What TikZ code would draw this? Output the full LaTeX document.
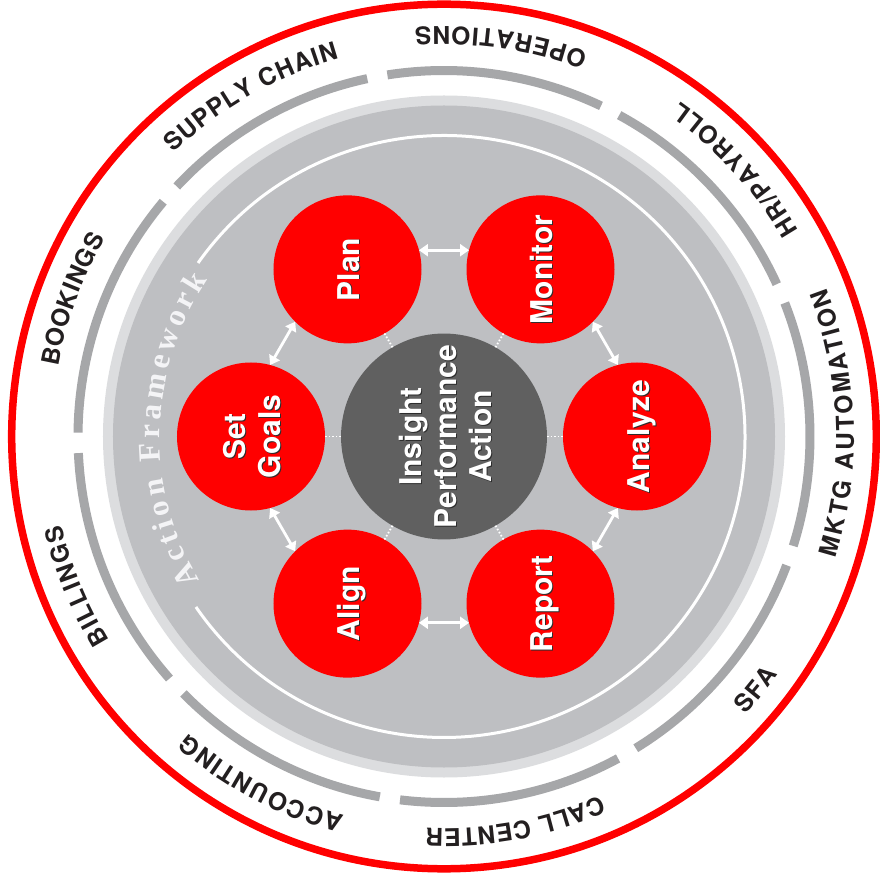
\documentclass[tikz,border=0pt]{standalone}
\usepackage{fontspec}
\usepackage{graphicx}
\usetikzlibrary{decorations.text,arrows.meta}
\newfontfamily\hv{TeX Gyre Heros}
\newfontfamily\tms{Liberation Serif}
\definecolor{myred}{RGB}{255,0,0}
\definecolor{diskgray}{RGB}{190,191,194}
\definecolor{ringgray}{RGB}{220,221,223}
\definecolor{bargray}{RGB}{166,167,169}
\definecolor{coregray}{RGB}{96,96,96}
\definecolor{lblcol}{RGB}{35,31,32}
\definecolor{afcol}{RGB}{244,244,246}
\definecolor{shcol}{RGB}{45,45,45}
\newcommand\circfont{\hv\bfseries\fontsize{30}{35}\selectfont}
\newcommand\lblfont{\hv\bfseries\fontsize{24.5}{24.5}\selectfont\color{lblcol}}
\newcommand\affont{\tms\bfseries\fontsize{31}{31}\selectfont\color{afcol}}
\newcommand\shd[1]{\leavevmode\rlap{\kern-0.9pt\raisebox{-1.1pt}{\textcolor{shcol}{#1}}}#1}
\newcommand\rtext[1]{\rotatebox{90}{\raisebox{0pt}[\height][0pt]{\begin{tabular}[b]{@{}c@{}}#1\end{tabular}}}}
\tikzset{
  redc/.style={circle, fill=myred, minimum size=148pt, inner sep=0pt, outer sep=0pt, text=white, font=\circfont},
  corec/.style={circle, fill=coregray, minimum size=194pt, inner sep=0pt, outer sep=0pt, text=white, font=\circfont},
  dots/.style={white, line width=1.8pt, dash pattern=on 1.6pt off 2pt},
  dbl/.style={white, line width=2.8pt, {Triangle[width=12pt,length=9pt]}-{Triangle[width=12pt,length=9pt]}},
  bar/.style={draw=bargray, line width=9pt},
}
\begin{document}
\begin{tikzpicture}[x=1pt,y=1pt]
\useasboundingbox (-444,-454.5) rectangle (435,436.5);
\fill[white] (-444,-454.5) rectangle (435,436.5);
% outer red ring
\draw[myred, line width=7.5pt] (0,0) circle[radius=432.3];
% gray bar segments
\foreach \a/\b in {98.9/64.6, 61.4/24.6, 21.4/-17.4, -20.6/-58.4, -61.6/-96.9, -100.1/-135.4, -138.6/-177.4, -180.6/-219.9, -223.1/-257.9}
  \draw[bar] (\a:366) arc[start angle=\a, end angle=\b, radius=366];
% disks
\fill[ringgray] (0,0) circle[radius=341];
\fill[diskgray] (0,0) circle[radius=331];
% white circle with gap
\draw[white, line width=3pt] (144.8:301) arc[start angle=144.8, end angle=-145.5, radius=301];
% Action Framework text
\path[decorate, decoration={text along path, text={|\affont|Action Framework}, text align={fit to path}}]
  (210.5:284) arc[start angle=210.5, end angle=146.5, radius=284];
% nodes
\node[corec] (core) at (0,0) {\rtext{\shd{Insight}\\\shd{Performance}\\\shd{Action}}};
\node[redc] (analyze) at (0:193) {\rtext{\shd{Analyze}}};
\node[redc] (monitor) at (60:193) {\rtext{\shd{Monitor}}};
\node[redc] (plan) at (120:193) {\rtext{\shd{Plan}}};
\node[redc] (setgoals) at (180:193) {\rtext{\shd{Set}\\\shd{Goals}}};
\node[redc] (align) at (240:193) {\rtext{\shd{Align}}};
\node[redc] (report) at (300:193) {\rtext{\shd{Report}}};
% dotted spokes
\foreach \n in {analyze,monitor,plan,setgoals,align,report}
  \draw[dots] (core) -- (\n);
% double arrows
\draw[dbl] (analyze.105) -- (monitor.315);
\draw[dbl] (monitor.165) -- (plan.15);
\draw[dbl] (plan.225) -- (setgoals.75);
\draw[dbl] (setgoals.285) -- (align.135);
\draw[dbl] (align.345) -- (report.195);
\draw[dbl] (report.45) -- (analyze.255);
% ring labels, counter-clockwise (tops inward)
\path[decorate, decoration={text along path, text={|\lblfont|OPERATIONS}, text align={fit to path}}]
  (69.4:410) arc[start angle=69.4, end angle=94.1, radius=410];
\path[decorate, decoration={text along path, text={|\lblfont|HR/PAYROLL}, text align={fit to path}}]
  (30.2:410) arc[start angle=30.2, end angle=54.8, radius=410];
\path[decorate, decoration={text along path, text={|\lblfont|MKTG AUTOMATION}, text align={fit to path}}]
  (-17.25:410) arc[start angle=-17.25, end angle=21.25, radius=410];
\path[decorate, decoration={text along path, text={|\lblfont|SFA}, text align={fit to path}}]
  (-42.75:410) arc[start angle=-42.75, end angle=-35.45, radius=410];
% ring labels, clockwise (tops outward)
\path[decorate, decoration={text along path, text={|\lblfont|CALL CENTER}, text align={fit to path}}]
  (-66.45:392) arc[start angle=-66.45, end angle=-92.65, radius=392];
\path[decorate, decoration={text along path, text={|\lblfont|ACCOUNTING}, text align={fit to path}}]
  (255.25:392) arc[start angle=255.25, end angle=229.25, radius=392];
\path[decorate, decoration={text along path, text={|\lblfont|BILLINGS}, text align={fit to path}}]
  (211.35:392) arc[start angle=211.35, end angle=192.95, radius=392];
\path[decorate, decoration={text along path, text={|\lblfont|BOOKINGS}, text align={fit to path}}]
  (169.75:392) arc[start angle=169.75, end angle=149.65, radius=392];
\path[decorate, decoration={text along path, text={|\lblfont|SUPPLY CHAIN}, text align={fit to path}}]
  (133.65:392) arc[start angle=133.65, end angle=105.55, radius=392];
\end{tikzpicture}
\end{document}
